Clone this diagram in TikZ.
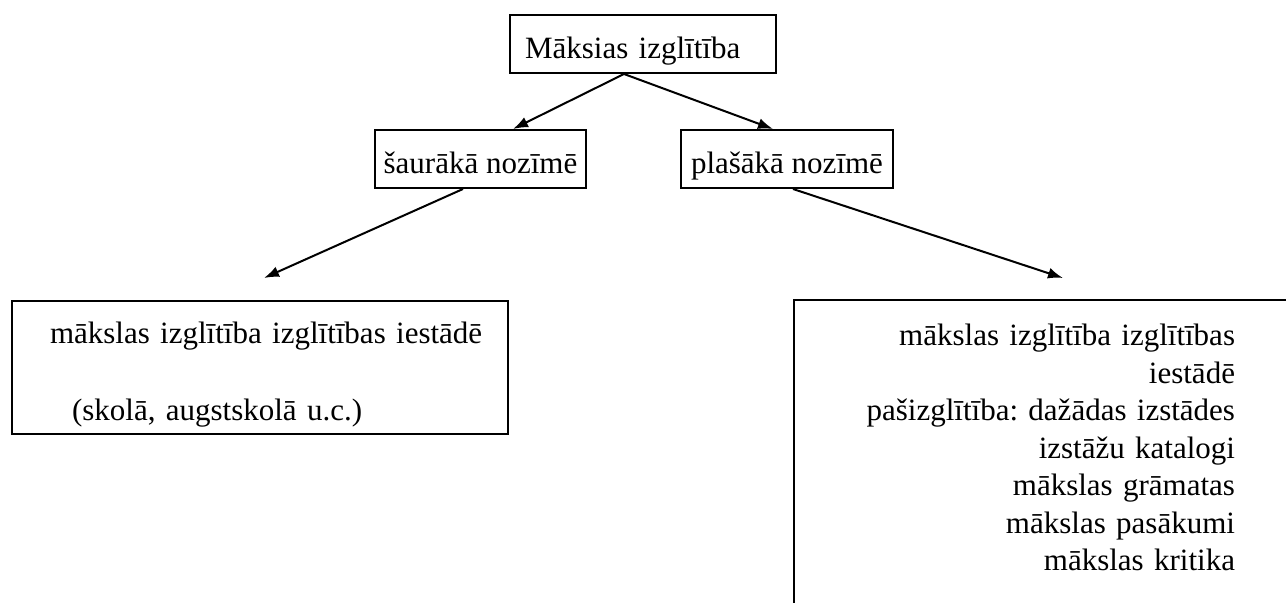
\documentclass[tikz,border=0pt]{standalone}
\usepackage{fontspec}
\setmainfont{Liberation Serif}
\frenchspacing
\usetikzlibrary{arrows.meta, positioning, calc}

\begin{document}
\begin{tikzpicture}[
    x=0.5pt, y=-0.5pt,
    >={Latex[length=7.5pt,width=5.5pt]},
    arrow/.style={->,line width=1pt},
    frame/.style={draw=black,line width=1pt,inner ysep=0pt,text height=22pt,text depth=7pt},
    every node/.style={font=\fontsize{15.5pt}{18.75pt}\selectfont}
]
\useasboundingbox (0,0) rectangle (1286,603);
\clip (0,0) rectangle (1286,603);

%--------------------------------------------------------------------
% Top: the whole notion
%--------------------------------------------------------------------
\node[frame,text width=118pt,align=left,inner xsep=7.5pt] (art) at (643,44) {Māksias izglītība};

%--------------------------------------------------------------------
% Middle: narrow and broad sense
%--------------------------------------------------------------------
\node[frame,minimum width=105.5pt,inner xsep=0pt] (narrow) at (480.5,159) {šaurākā nozīmē};
\node[frame,minimum width=106pt,inner xsep=0pt]   (broad)  at (787,159)   {plašākā nozīmē};

\draw[arrow] ([xshift=-9.5pt]art.south) -- ([xshift=16.25pt]narrow.north);
\draw[arrow] ([xshift=-9.5pt]art.south) -- ([xshift=-7pt]broad.north);

%--------------------------------------------------------------------
% Bottom: what each sense covers
%--------------------------------------------------------------------
\node[draw,line width=1pt,anchor=north west,
      text width=226pt,align=left,
      inner xsep=11pt,inner ysep=0pt,
      text height=21.5pt,text depth=45pt] (formal) at (11,300) {%
  \hspace*{8pt}mākslas izglītība izglītības iestādē\\[19.75pt]
  \hspace*{19pt}(skolā, augstskolā u.c.)};

\node[draw,line width=1pt,anchor=north west,
      text width=190.5pt,align=right,
      inner xsep=30pt,inner ysep=0pt,
      text height=23pt,text depth=140pt] (wide) at (793,299) {%
  mākslas izglītība izglītības\\
  iestādē\\
  pašizglītība: dažādas izstādes\\
  izstāžu katalogi\\
  mākslas grāmatas\\
  mākslas pasākumi\\
  mākslas kritika};

\coordinate (formaltip) at ([xshift=2pt,yshift=11pt]formal.north);
\coordinate (widetip)   at ([xshift=9.25pt,yshift=10.5pt]wide.north);

\draw[arrow] ([xshift=-8.75pt]narrow.south) -- (formaltip);
\draw[arrow] ([xshift=3pt]broad.south) -- (widetip);

\end{tikzpicture}
\end{document}
